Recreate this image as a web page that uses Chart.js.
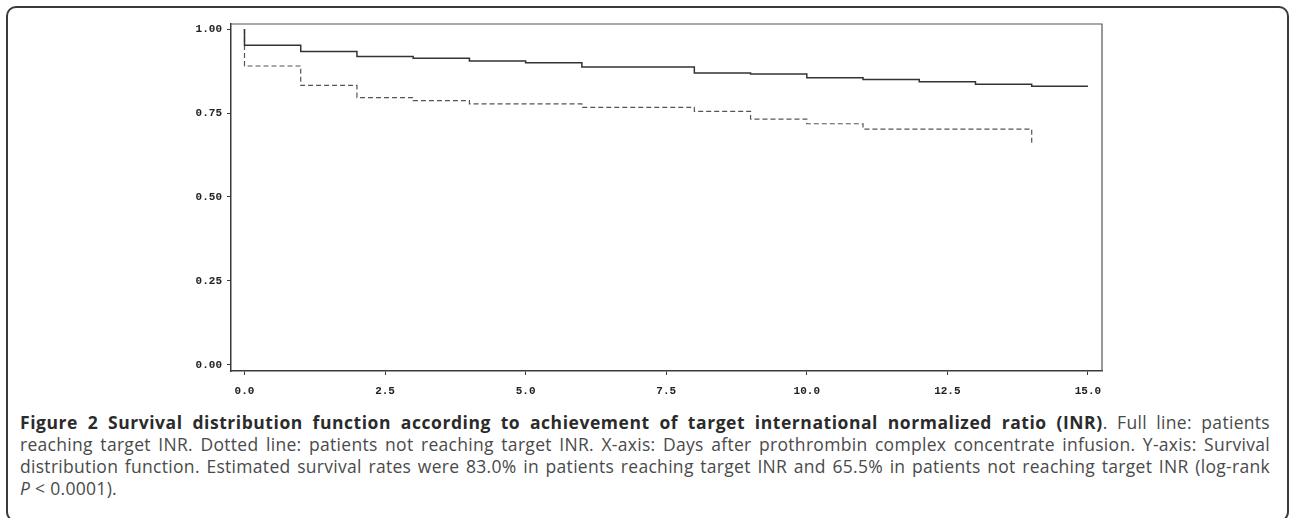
<!DOCTYPE html>
<html>
<head>
<meta charset="utf-8">
<script src="https://cdn.jsdelivr.net/npm/chart.js@4.4.0/dist/chart.umd.min.js"></script>
<style>
  html, body { margin: 0; padding: 0; background: #fff; }
  body { width: 1289px; height: 518px; position: relative; overflow: hidden; }
  #frame {
    position: absolute; left: 6px; top: 6px; width: 1283px; height: 516px;
    box-sizing: border-box; border: 2px solid #3a3a3a; border-radius: 10px;
  }
  #plot { position: absolute; left: 0; top: 0; }
  .cap {
    position: absolute; left: 20px; width: 1250px;
    font-family: "Open Sans", sans-serif; font-size: 17.5px; line-height: 22px;
    letter-spacing: 0.3px; color: #4a4a4a; white-space: nowrap;
  }
  .cap b { color: #2b2b2b; font-weight: 700; letter-spacing: 0.55px; }
</style>
</head>
<body>
<div id="frame"></div>
<canvas id="plot" width="1289" height="400"></canvas>
<div class="cap just" style="top:411px"><span class="txt"><b>Figure 2 Survival distribution function according to achievement of target international normalized ratio (INR)</b>. Full line: patients</span></div>
<div class="cap just" style="top:433px"><span class="txt">reaching target INR. Dotted line: patients not reaching target INR. X-axis: Days after prothrombin complex concentrate infusion. Y-axis: Survival</span></div>
<div class="cap just" style="top:455px"><span class="txt">distribution function. Estimated survival rates were 83.0% in patients reaching target INR and 65.5% in patients not reaching target INR (log-rank</span></div>
<div class="cap" style="top:477px"><i>P</i> &lt; 0.0001).</div>
<script>
// Kaplan-Meier steps: each point is the day a drop happens and the survival after it.
const reachedDays     = [0, 0, 1, 2, 3, 4, 5, 6, 8, 9, 10, 11, 12, 13, 14, 15];
const reachedSurvival = [1.0, 0.952, 0.933, 0.918, 0.913, 0.905, 0.900, 0.887, 0.869, 0.866, 0.855, 0.850, 0.843, 0.836, 0.830, 0.830];

const notReachedDays     = [0, 0, 1, 2, 3, 4, 6, 8, 9, 10, 11, 14];
const notReachedSurvival = [1.0, 0.890, 0.832, 0.796, 0.787, 0.777, 0.767, 0.755, 0.732, 0.718, 0.702, 0.655];

const dayTicks = [0, 2.5, 5, 7.5, 10, 12.5, 15];
const survivalTicks = [0, 0.25, 0.5, 0.75, 1.0];

const toPoints = (xs, ys) => xs.map((x, i) => ({ x: x, y: ys[i] }));

const tickFont = { family: "'Liberation Mono', monospace", size: 11, weight: 'bold' };
const axisColor = '#3a3a3a';

// Thin box line along the top and right of the plot area.
const plotFrame = {
  id: 'plotFrame',
  afterDraw(chart) {
    const { ctx, chartArea: a } = chart;
    ctx.save();
    ctx.strokeStyle = '#555';
    ctx.lineWidth = 1.2;
    ctx.beginPath();
    ctx.moveTo(a.left, a.top);
    ctx.lineTo(a.right, a.top);
    ctx.lineTo(a.right, a.bottom);
    ctx.stroke();
    ctx.restore();
  }
};

new Chart(document.getElementById('plot'), {
  type: 'line',
  data: {
    datasets: [
      {
        label: 'Reaching target INR',
        data: toPoints(reachedDays, reachedSurvival),
        stepped: 'before',
        borderColor: '#333',
        borderWidth: 1.5,
        pointRadius: 0,
        fill: false
      },
      {
        label: 'Not reaching target INR',
        data: toPoints(notReachedDays, notReachedSurvival),
        stepped: 'before',
        borderColor: '#555',
        borderWidth: 1.2,
        borderDash: [5, 3],
        pointRadius: 0,
        fill: false
      }
    ]
  },
  options: {
    responsive: false,
    devicePixelRatio: 1,
    animation: false,
    layout: { padding: { top: 24, right: 187, bottom: 0, left: 0 } },
    plugins: { legend: { display: false }, tooltip: { enabled: false } },
    scales: {
      x: {
        type: 'linear',
        min: -0.24,
        max: 15.25,
        afterBuildTicks: s => { s.ticks = dayTicks.map(v => ({ value: v })); },
        afterFit: s => { s.height = 29; },
        ticks: {
          callback: v => Number(v).toFixed(1),
          font: tickFont, color: '#222', padding: 10,
          maxRotation: 0, autoSkip: false
        },
        grid: { drawOnChartArea: false, drawTicks: true, tickLength: 4, color: axisColor, lineWidth: 1 },
        border: { display: true, color: axisColor, width: 1.5 }
      },
      y: {
        type: 'linear',
        min: -0.018,
        max: 1.015,
        afterBuildTicks: s => { s.ticks = survivalTicks.map(v => ({ value: v })); },
        afterFit: s => { s.width = 231; },
        ticks: {
          callback: v => Number(v).toFixed(2),
          font: tickFont, color: '#222', padding: 5, autoSkip: false
        },
        grid: { drawOnChartArea: false, drawTicks: true, tickLength: 4, color: axisColor, lineWidth: 1 },
        border: { display: true, color: axisColor, width: 1.5 }
      }
    }
  },
  plugins: [plotFrame]
});

// Justify the full caption lines by spreading the word gaps over the column width.
function justifyCaption() {
  document.querySelectorAll('.cap.just').forEach(el => {
    el.style.wordSpacing = '0px';
    const span = el.querySelector('.txt');
    const natural = span.getBoundingClientRect().width;
    const gaps = (span.textContent.match(/ /g) || []).length;
    const target = el.clientWidth;
    if (gaps > 0) el.style.wordSpacing = ((target - natural) / gaps) + 'px';
  });
}
justifyCaption();
if (document.fonts && document.fonts.ready) document.fonts.ready.then(justifyCaption);
</script>
</body>
</html>
